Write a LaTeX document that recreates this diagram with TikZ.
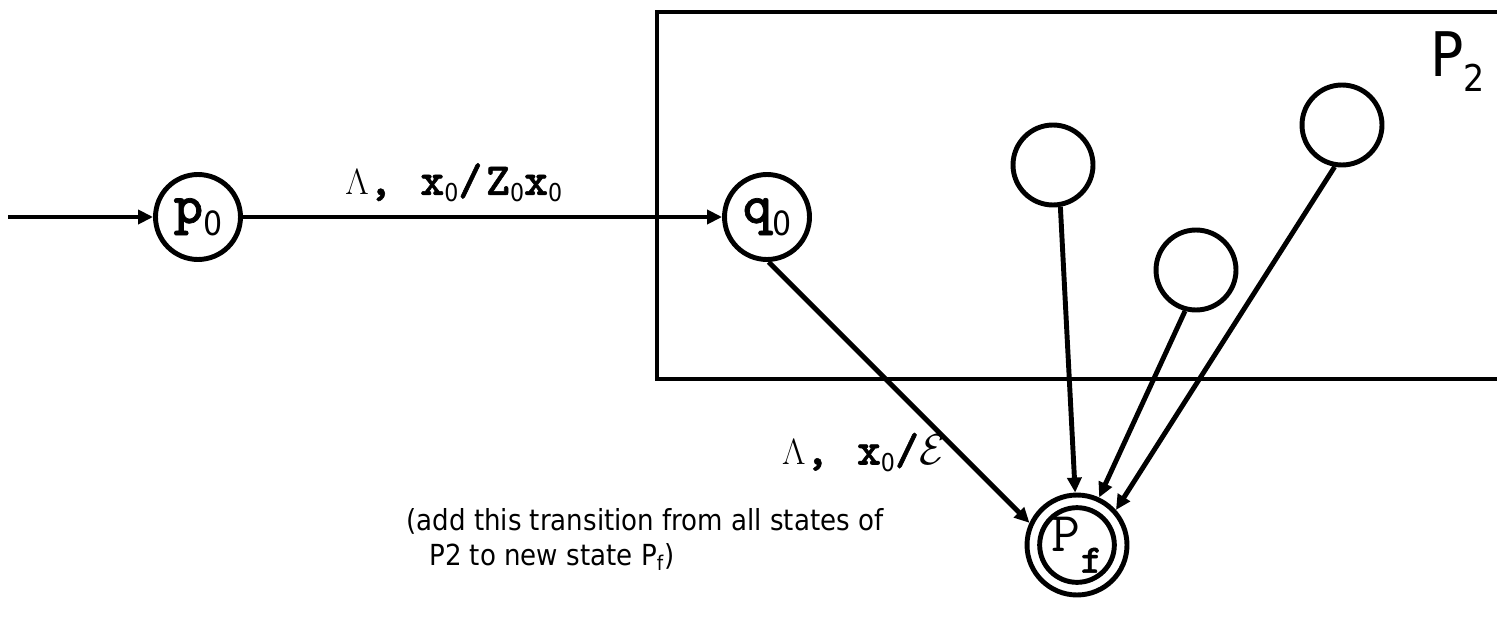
\documentclass[tikz,border=0pt]{standalone}
\usepackage{fontspec}
\setsansfont{DejaVu Sans}[FakeStretch=0.9]
\newfontfamily\cbold{lmmonolt10-bold.otf}[FakeBold=1.2,LetterSpace=8]
\usetikzlibrary{positioning,arrows.meta}

\newcommand{\tsub}[1]{\raisebox{-4pt}{\sffamily\mdseries\fontsize{14}{14}\selectfont #1}}
\newcommand{\tlam}{{\fontsize{22}{22}\selectfont$\Lambda$}}
\newcommand{\stlabel}[2]{\fontsize{32}{32}\selectfont\cbold #1\raisebox{-7pt}{\sffamily\mdseries\fontsize{19}{19}\selectfont #2}}

\begin{document}
\begin{tikzpicture}[x=0.02cm,y=-0.02cm,line width=2.8pt,
  >={Triangle[length=0.3cm,width=0.28cm]},
  state/.style={circle,draw,minimum size=1.7cm,inner sep=0pt},
  blank/.style={circle,draw,minimum size=1.6cm,inner sep=0pt},
  trans/.style={font=\fontsize{26}{26}\selectfont\cbold,inner sep=0pt}]
\useasboundingbox (0,0) rectangle (1497,635);

\draw (657,12) rectangle (1540,379);
\node[anchor=base west,inner sep=0pt,font=\sffamily\fontsize{35}{35}\selectfont] (ptwo) at (1428,77)
  {P\raisebox{-8.5pt}{\fontsize{21}{21}\selectfont 2}};

\node[state] (p0) at (198,217) {\stlabel{p}{0}};
\node[state] (q0) at (767,217) {\stlabel{q}{0}};
\node[blank] (sa) at (1053,165) {};
\node[blank] (sb) at (1342,125) {};
\node[blank] (sc) at (1196,270) {};
\node[state,minimum size=2.0cm] (pf) at (1077,545) {};
\node[state,minimum size=1.46cm] (pfin) at (pf) {\fontsize{32}{32}\selectfont\ttfamily P\raisebox{-12pt}{\fontsize{23}{23}\selectfont\cbold f}};
\coordinate (start) at (8,217);

\draw[->] (start) -- (p0);
\draw[->] (p0) -- (q0) node[trans,pos=0.44,above=7pt] {\tlam,~x\tsub{0}/Z\tsub{0}x\tsub{0}};
\draw[->] (q0.-88) -- (pf.155) node[trans,pos=0.73,left=6pt] {\tlam,~x\tsub{0}/{\fontsize{30}{30}\selectfont$\mathcal{E}$}};
\draw[->] (sa.-80) -- (pf.92);
\draw[->] (sc.-105) -- (pf.65);
\draw[->] (sb.-100) -- (pf.42);

\node[anchor=north west,align=left,inner sep=0pt,font=\sffamily\fontsize{16.5}{20}\selectfont] (note) at (404,506)
  {(add this transition from all states of\\\hspace{13pt}P2 to new state P\textsubscript{f})};
\end{tikzpicture}
\end{document}
